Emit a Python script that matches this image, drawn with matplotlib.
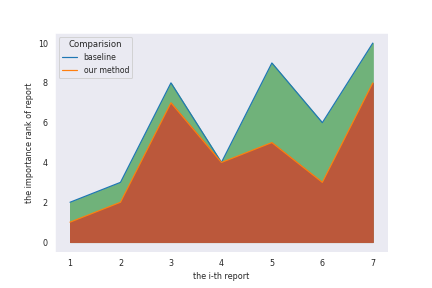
import matplotlib
matplotlib.use("Agg")
import matplotlib.pyplot as plt
import seaborn as sns

reports = [1, 2, 3, 4, 5, 6, 7]
baseline = [2, 3, 8, 4, 9, 6, 10]
our_method = [1, 2, 7, 4, 5, 3, 8]

sns.set_style("dark")
plt.rcParams["font.size"] = 8

fig = plt.figure(figsize=(6, 4), dpi=72)
ax = fig.add_axes([0.127, 0.125, 0.771, 0.76])
ax.fill_between(reports, baseline, color="#70b27a")
ax.fill_between(reports, our_method, color="#bb583b")
ax.plot(reports, baseline, color="#1f77b4", lw=1.2, label="baseline")
ax.plot(reports, our_method, color="#ff7f0e", lw=1.2, label="our method")

ax.set_xlabel("the i-th report", fontsize=8)
ax.set_ylabel("the importance rank of report", fontsize=8)
ax.tick_params(labelsize=8)
ax.legend(title="Comparision", loc="upper left", fontsize=7.8, title_fontsize=8.5)

fig.savefig("out.png", dpi=72)
